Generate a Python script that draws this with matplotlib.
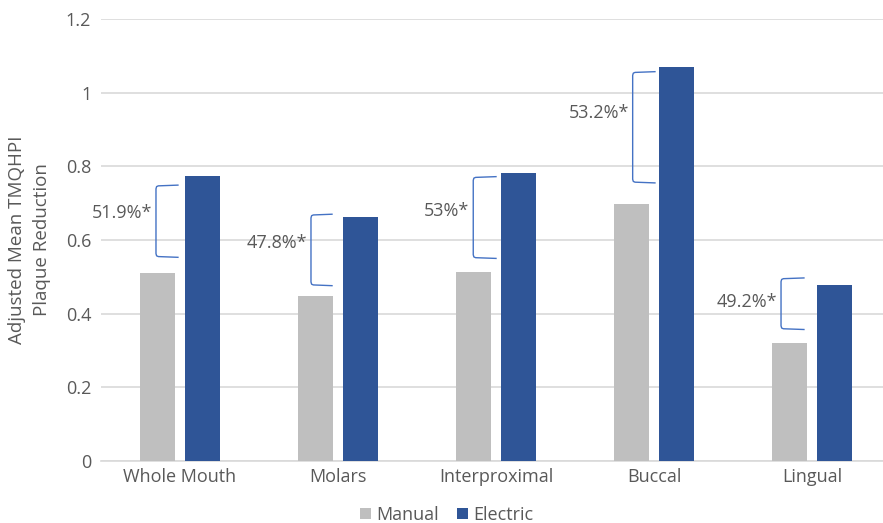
import matplotlib.pyplot as plt
import numpy as np

categories = ['Whole Mouth', 'Molars', 'Interproximal', 'Buccal', 'Lingual']
manual = [0.510, 0.448, 0.512, 0.698, 0.320]
electric = [0.775, 0.662, 0.783, 1.071, 0.477]

# bracket annotations (percent difference)
pct_labels = ['51.9%*', '47.8%*', '53%*', '53.2%*', '49.2%*']
bracket_lo = [0.555, 0.478, 0.552, 0.757, 0.359]
bracket_hi = [0.747, 0.668, 0.770, 1.055, 0.495]
label_y = [0.673, 0.592, 0.679, 0.945, 0.433]
bracket_x = [-0.152, -0.171, -0.144, -0.135, -0.196]
tip_x = [-0.013, -0.038, 0.0, 0.006, -0.051]

yticks = [0, 0.2, 0.4, 0.6, 0.8, 1.0, 1.2]
ytick_labels = ['0', '0.2', '0.4', '0.6', '0.8', '1', '1.2']

plt.rcParams['font.family'] = ['Open Sans', 'DejaVu Sans']
text_color = '#595959'
grey = '#BFBFBF'
blue = '#2F5597'
bracket_color = '#4472C4'

fig = plt.figure(figsize=(8.83, 5.23), dpi=100)
ax = fig.add_axes([101 / 883, 62 / 523, 790 / 883, 442 / 523])

x = np.arange(len(categories))
w = 0.222
off = 0.142
ax.bar(x - off, manual, width=w, color=grey, label='Manual', zorder=3)
ax.bar(x + off, electric, width=w, color=blue, label='Electric', zorder=3)

# brackets with small rounded corners
for i in range(len(categories)):
    xv = x[i] + bracket_x[i]
    xt = x[i] + tip_x[i]
    lo, hi = bracket_lo[i], bracket_hi[i]
    ax.plot([xt, xv + 0.015, xv + 0.004, xv, xv, xv + 0.004, xv + 0.015, xt],
            [hi + 0.002, hi, hi - 0.002, hi - 0.008, lo + 0.008, lo + 0.002, lo, lo - 0.002],
            color=bracket_color, lw=1.0, zorder=4, solid_joinstyle='round')
    ax.text(xv - 0.025, label_y[i], pct_labels[i], ha='right', va='center',
            fontsize=13, color=text_color, zorder=5)

ax.set_xlim(-0.5, len(categories) - 0.5)
ax.set_ylim(0, 1.2)
ax.set_yticks(yticks)
ax.set_yticklabels(ytick_labels)
ax.set_xticks(x)
ax.set_xticklabels(categories)
ax.tick_params(axis='both', length=0, labelsize=13, labelcolor=text_color)
ax.tick_params(axis='y', pad=7)
ax.tick_params(axis='x', pad=5)
ax.grid(axis='y', color='#D9D9D9', lw=1.2, zorder=0)
for s in ['top', 'right', 'left']:
    ax.spines[s].set_visible(False)
ax.spines['bottom'].set_color('#D9D9D9')
ax.spines['bottom'].set_linewidth(1.2)

fig.text(30 / 883, 1 - 240 / 523, 'Adjusted Mean TMQHPI\nPlaque Reduction',
         rotation=90, ha='center', va='center', multialignment='center',
         fontsize=13.5, color=text_color, linespacing=1.5)

fig.legend(loc='center', bbox_to_anchor=(447 / 883, 1 - 515 / 523), ncol=2,
           frameon=False, fontsize=13, labelcolor=text_color,
           handlelength=0.6, handleheight=0.6, handletextpad=0.3,
           columnspacing=1.0)

fig.savefig('out.png', dpi=100)
